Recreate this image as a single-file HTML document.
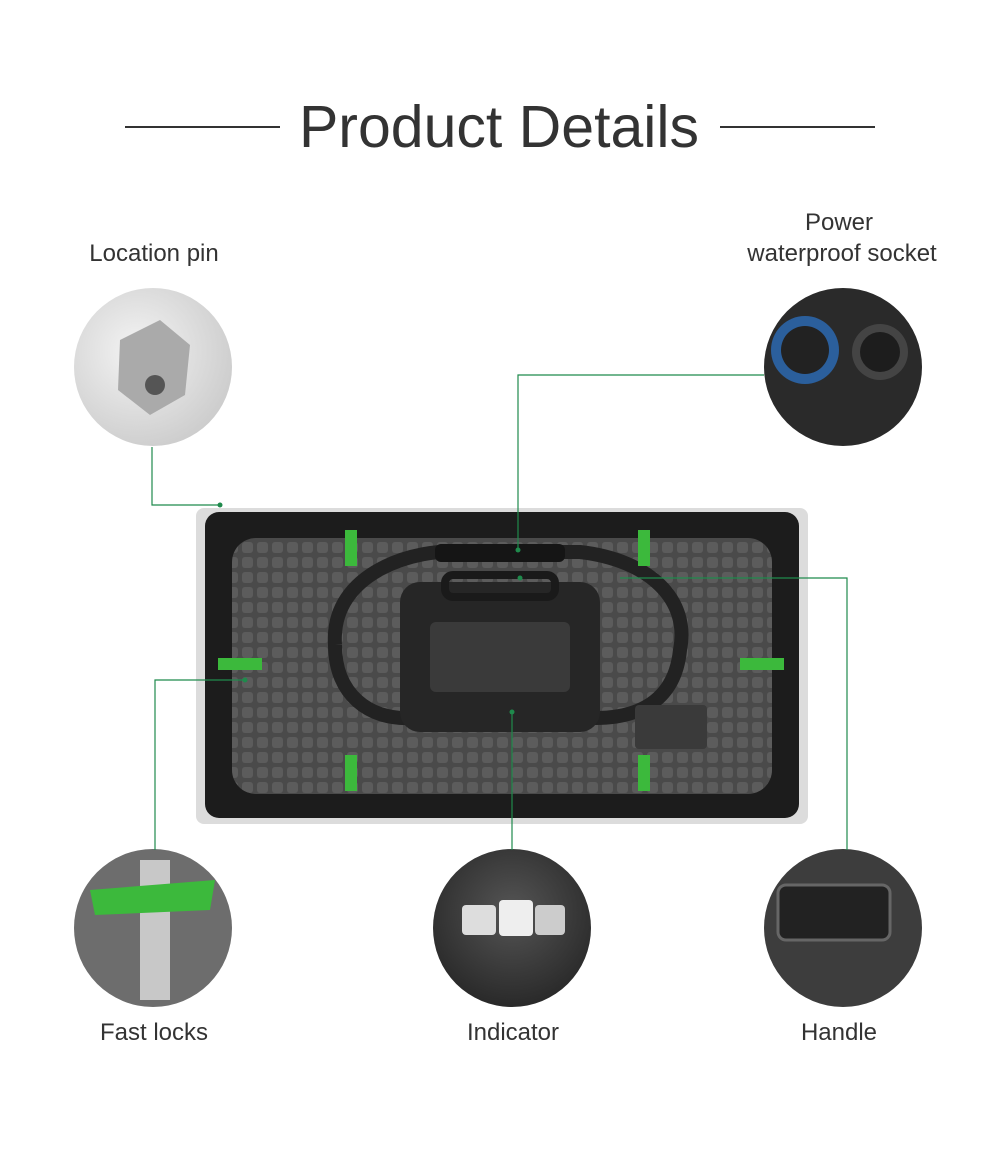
<!DOCTYPE html>
<html><head><meta charset="utf-8"><style>
html,body{margin:0;padding:0;background:#fff;}
body{width:1000px;height:1170px;overflow:hidden;font-family:"Liberation Sans",sans-serif;}
</style></head><body>
<svg width="1000" height="1170" viewBox="0 0 1000 1170" xmlns="http://www.w3.org/2000/svg">
<defs>
<pattern id="grid" width="15" height="15" patternUnits="userSpaceOnUse">
<rect width="15" height="15" fill="#4a4a4a"/>
<rect x="2" y="2" width="11" height="11" rx="3" fill="#5c5c5c"/>
</pattern>
<radialGradient id="g1" cx="0.4" cy="0.4" r="0.7"><stop offset="0" stop-color="#f4f4f4"/><stop offset="1" stop-color="#c9c9c9"/></radialGradient>
<radialGradient id="g2" cx="0.5" cy="0.4" r="0.7"><stop offset="0" stop-color="#555"/><stop offset="1" stop-color="#222"/></radialGradient>
</defs>
<text x="499" y="147" font-size="59" fill="#333" text-anchor="middle">Product Details</text>
<line x1="125" y1="127" x2="280" y2="127" stroke="#333" stroke-width="2"/>
<line x1="720" y1="127" x2="875" y2="127" stroke="#333" stroke-width="2"/>
<g font-size="24" fill="#333" text-anchor="middle">
<text x="154" y="261">Location pin</text>
<text x="839" y="230">Power</text>
<text x="842" y="261">waterproof socket</text>
<text x="154" y="1040">Fast locks</text>
<text x="513" y="1040">Indicator</text>
<text x="839" y="1040">Handle</text>
</g>
<circle cx="153" cy="367" r="79" fill="url(#g1)"/>
<polygon points="120,340 160,320 190,345 185,395 150,415 118,390" fill="#aaa"/>
<circle cx="155" cy="385" r="10" fill="#555"/>
<circle cx="843" cy="367" r="79" fill="#2a2a2a"/>
<circle cx="805" cy="350" r="34" fill="#2b5f9c"/><circle cx="805" cy="350" r="24" fill="#222"/>
<circle cx="880" cy="352" r="28" fill="#444"/><circle cx="880" cy="352" r="20" fill="#1d1d1d"/>
<circle cx="153" cy="928" r="79" fill="#6d6d6d"/>
<rect x="140" y="860" width="30" height="140" fill="#c8c8c8"/>
<polygon points="90,890 215,880 210,910 95,915" fill="#3cb93c"/>
<circle cx="512" cy="928" r="79" fill="url(#g2)"/>
<rect x="462" y="905" width="34" height="30" rx="4" fill="#ddd"/>
<rect x="499" y="900" width="34" height="36" rx="4" fill="#eee"/>
<rect x="535" y="905" width="30" height="30" rx="4" fill="#ccc"/>
<circle cx="843" cy="928" r="79" fill="#3d3d3d"/>
<rect x="778" y="885" width="112" height="55" rx="8" fill="#222" stroke="#666" stroke-width="3"/>
<rect x="196" y="508" width="612" height="316" rx="8" fill="#dcdcdc"/>
<rect x="205" y="512" width="594" height="306" rx="14" fill="#1c1c1c"/>
<rect x="232" y="538" width="540" height="256" rx="24" fill="url(#grid)"/>
<path d="M335,645 C330,570 420,548 460,552 L580,552 C650,560 690,600 680,650 C675,700 640,718 595,718 M335,645 C335,695 370,720 410,718" fill="none" stroke="#222" stroke-width="14"/>
<rect x="400" y="582" width="200" height="150" rx="20" fill="#262626"/>
<rect x="430" y="622" width="140" height="70" rx="6" fill="#3a3a3a"/>
<rect x="445" y="575" width="110" height="22" rx="8" fill="none" stroke="#1a1a1a" stroke-width="8"/>
<rect x="635" y="705" width="72" height="44" rx="4" fill="#3a3a3a"/>
<rect x="435" y="544" width="130" height="18" rx="6" fill="#151515"/>
<g fill="#3cb93c">
<rect x="345" y="530" width="12" height="36"/><rect x="638" y="530" width="12" height="36"/>
<rect x="345" y="755" width="12" height="36"/><rect x="638" y="755" width="12" height="36"/>
<rect x="218" y="658" width="44" height="12"/><rect x="740" y="658" width="44" height="12"/>
</g>
<g stroke="#1f8a4c" stroke-width="1.2" fill="none">
<polyline points="152,447 152,505 220,505"/>
<polyline points="764,375 518,375 518,550"/>
<polyline points="245,680 155,680 155,850"/>
<line x1="512" y1="712" x2="512" y2="850"/>
<polyline points="620,578 847,578 847,850"/>
</g>
<g fill="#1f8a4c"><circle cx="220" cy="505" r="2.5"/><circle cx="518" cy="550" r="2.5"/><circle cx="245" cy="680" r="2.5"/><circle cx="512" cy="712" r="2.5"/><circle cx="520" cy="578" r="2.5"/></g>
</svg>
</body></html>
